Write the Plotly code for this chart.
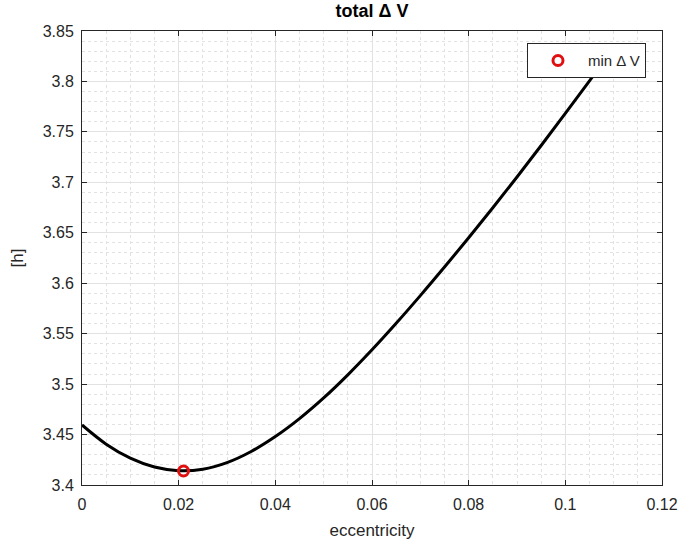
import plotly.graph_objects as go

# data
ecc = [0.000, 0.005, 0.010, 0.015, 0.020, 0.025, 0.030, 0.035, 0.040,
       0.045, 0.050, 0.055, 0.060, 0.065, 0.070, 0.075, 0.080, 0.085, 0.090,
       0.095, 0.100, 0.105, 0.110]
dv = [3.4595, 3.4405, 3.4266, 3.4178, 3.4142, 3.4157, 3.4222, 3.4332, 3.4480,
      3.4658, 3.4863, 3.5092, 3.5340, 3.5603, 3.5877, 3.6160, 3.6450, 3.6748, 3.7053,
      3.7365, 3.7683, 3.8006, 3.8333]
min_ecc = [0.021]
min_dv = [3.4139]

x_ticks = [0, 0.02, 0.04, 0.06, 0.08, 0.1, 0.12]
y_ticks = [3.4, 3.45, 3.5, 3.55, 3.6, 3.65, 3.7, 3.75, 3.8, 3.85]

FONT = "Liberation Sans, Arial, sans-serif"
AX = "#262626"

fig = go.Figure()
fig.add_trace(go.Scatter(x=ecc, y=dv, mode="lines", line=dict(color="black", width=3, shape="spline"),
                         showlegend=False, hoverinfo="skip"))
fig.add_trace(go.Scatter(x=min_ecc, y=min_dv, mode="markers", name="min \u0394 V",
                         marker=dict(symbol="circle-open", color="#e01010", size=10, line=dict(width=3, color="#e01010"))))

axis_common = dict(
    showline=True, linecolor=AX, linewidth=1, mirror="ticks",
    ticks="inside", ticklen=5, tickcolor=AX, tickwidth=1,
    showgrid=True, gridcolor="#e2e2e2", gridwidth=1,
    zeroline=False, automargin=False,
    tickfont=dict(family=FONT, size=16, color=AX),
)

fig.update_xaxes(range=[0, 0.12], tickvals=x_ticks, ticktext=[str(v) for v in x_ticks],
                 ticklabelstandoff=5,
                 title=dict(text="eccentricity", font=dict(family=FONT, size=17, color=AX), standoff=11),
                 minor=dict(dtick=0.005, showgrid=True, gridcolor="#e2e2e2", griddash="dot", gridwidth=1, ticks=""),
                 **axis_common)
fig.update_yaxes(range=[3.4, 3.85], tickvals=y_ticks, ticktext=[("%g" % v) for v in y_ticks],
                 ticklabelstandoff=4,
                 title=dict(text="[h]", font=dict(family=FONT, size=17, color=AX), standoff=14),
                 minor=dict(dtick=0.01, showgrid=True, gridcolor="#e2e2e2", griddash="dot", gridwidth=1, ticks=""),
                 **axis_common)

fig.update_layout(
    width=695, height=544,
    margin=dict(l=82, r=33, t=31, b=59, autoexpand=False),
    paper_bgcolor="white", plot_bgcolor="white",
    title=dict(text="<b>total \u0394 V</b>", x=0.5, xref="paper", y=1 - 11 / 544, yref="container",
               xanchor="center", yanchor="middle", font=dict(family=FONT, size=18, color="black")),
    legend=dict(x=0.9724, y=0.973, xanchor="right", yanchor="top",
                bgcolor="white", bordercolor=AX, borderwidth=1,
                font=dict(family=FONT, size=15, color=AX), itemwidth=50),
    font=dict(family=FONT),
)

fig.write_html("out.html", config={"displayModeBar": False},
               post_script="document.body.style.margin='0';")
